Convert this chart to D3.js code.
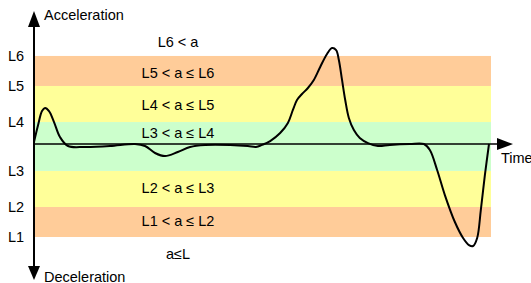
<!DOCTYPE html>
<html>
<head>
<meta charset="utf-8">
<script src="https://cdn.jsdelivr.net/npm/d3@7"></script>
<style>
  body { margin: 0; background: #fff; }
  text { font-family: "Liberation Sans", Arial, sans-serif; font-size: 14.5px; fill: #000; }
</style>
</head>
<body>
<div id="chart"></div>
<script>
// level thresholds (acceleration units)
const levelNames = ["L1", "L2", "L3", "L4", "L5", "L6"];
const levelValues = [-6.94, -4.70, -2.01, 1.64, 4.33, 6.57];

// band labels and where they sit (acceleration units)
const bandLabels = ["L6 < a", "L5 < a ≤ L6", "L4 < a ≤ L5", "L3 < a ≤ L4", "L2 < a ≤ L3", "L1 < a ≤ L2", "a≤L"];
const bandLabelValues = [7.6, 5.3, 2.95, 0.82, -3.3, -5.75, -8.2];

// bands between levels and their colours
const bandLows = [-6.94, -4.70, -2.01, 1.64, 4.33];
const bandHighs = [-4.70, -2.01, 1.64, 4.33, 6.57];
const bandColors = ["#ffcc99", "#ffff99", "#ccffcc", "#ffff99", "#ffcc99"];

// the acceleration trace
const timeValues = [0, 0.9, 1.76, 2.42, 3.3, 4.4, 5.71, 7.47, 11.2, 16.7, 22.2, 24.4, 26.6, 28.8, 31.6, 34.3,
  37.6, 43.1, 47.0, 48.8, 50.1, 51.9, 54.1, 55.8, 56.9, 57.8, 58.9, 60.2, 61.5, 62.9, 64.4, 65.5, 66.4,
  67.0, 67.7, 68.4, 69.2, 70.3, 71.6, 73.4, 75.6, 78.2, 82.6, 85.7, 87.0, 88.6, 90.3, 92.5, 94.3, 95.6,
  96.5, 97.4, 98.2, 99.1, 100];
const accelValues = [0.15, 1.42, 2.46, 2.69, 2.46, 1.64, 0.52, -0.15, -0.22, -0.15, 0, -0.15, -0.67, -0.9, -0.6, -0.22,
  -0.07, -0.07, -0.15, -0.22, -0.07, 0.22, 0.82, 1.57, 2.54, 3.28, 3.73, 4.18, 4.78, 5.75, 6.72, 7.16, 7.01,
  6.27, 4.78, 3.28, 1.94, 1.04, 0.45, 0.07, -0.15, -0.07, 0, 0, -0.45, -1.94, -3.81, -5.82, -7.01, -7.54,
  -7.61, -7.01, -4.93, -2.31, 0];

const width = 531, height = 283;

const svg = d3.select("#chart")
    .append("svg")
    .attr("width", width)
    .attr("height", height);

const xScale = d3.scaleLinear().domain([0, 100]).range([34, 489]);
const yScale = d3.scaleLinear().domain([-10, 10]).range([278, 10]);

// coloured bands
svg.selectAll(".band")
    .data(bandLows)
    .enter().append("rect")
    .attr("class", "band")
    .attr("x", 35)
    .attr("width", 491 - 35)
    .attr("y", (d, i) => yScale(bandHighs[i]))
    .attr("height", (d, i) => yScale(d) - yScale(bandHighs[i]))
    .attr("fill", (d, i) => bandColors[i]);

// level labels on the left
svg.selectAll(".lvl")
    .data(levelNames)
    .enter().append("text")
    .attr("class", "lvl")
    .attr("x", 8)
    .attr("y", (d, i) => yScale(levelValues[i]))
    .attr("dy", "0.35em")
    .text(d => d);

// band labels
svg.selectAll(".blab")
    .data(bandLabels)
    .enter().append("text")
    .attr("class", "blab")
    .attr("x", 178)
    .attr("y", (d, i) => yScale(bandLabelValues[i]))
    .attr("dy", "0.35em")
    .attr("text-anchor", "middle")
    .text(d => d);

// axes
const y0 = yScale(0);
svg.append("line")
    .attr("x1", 34).attr("x2", 500)
    .attr("y1", y0).attr("y2", y0)
    .attr("stroke", "#000").attr("stroke-width", 1.5);
svg.append("line")
    .attr("x1", 34).attr("x2", 34)
    .attr("y1", 24).attr("y2", 268)
    .attr("stroke", "#000").attr("stroke-width", 2);

// arrow heads
svg.append("path").attr("d", "M34,11 L28,27 L40,27 Z").attr("fill", "#000");
svg.append("path").attr("d", "M34,280 L28,266 L40,266 Z").attr("fill", "#000");
svg.append("path").attr("d", `M513,${y0} L497,${y0 - 6} L497,${y0 + 6} Z`).attr("fill", "#000");

// axis titles
svg.append("text").attr("x", 44).attr("y", 20).text("Acceleration");
svg.append("text").attr("x", 44).attr("y", 282).text("Deceleration");
svg.append("text").attr("x", 501).attr("y", 163).text("Time");

// trace
const line = d3.line()
    .x((d, i) => xScale(timeValues[i]))
    .y(d => yScale(d))
    .curve(d3.curveCatmullRom.alpha(0.5));

svg.append("path")
    .datum(accelValues)
    .attr("d", line)
    .attr("fill", "none")
    .attr("stroke", "#000")
    .attr("stroke-width", 2);
</script>
</body>
</html>
